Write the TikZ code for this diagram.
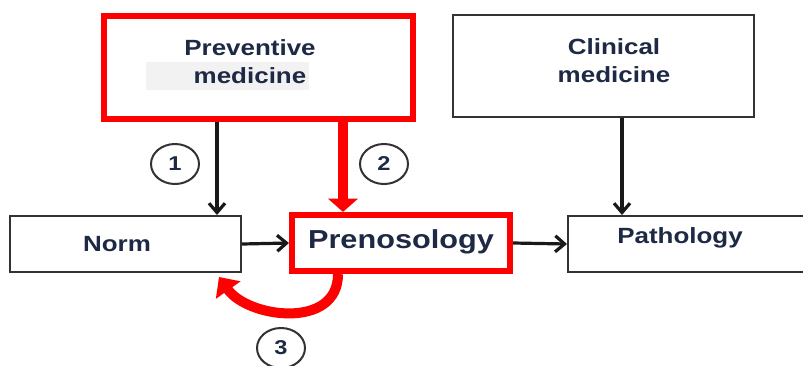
\documentclass[tikz,border=0pt]{standalone}
\usepackage{fontspec}
\setmainfont[FakeStretch=1.18]{Liberation Sans}
\usetikzlibrary{arrows.meta,shapes.geometric}
\definecolor{ink}{HTML}{1E2A45}
\definecolor{boxline}{HTML}{333333}
\definecolor{hl}{HTML}{FF0000}
\tikzset{
  plainbox/.style={draw=boxline,line width=1.5pt,rectangle,inner sep=0pt},
  redbox/.style={draw=hl,line width=4.6pt,rectangle,inner sep=0pt},
  txt/.style={text=ink,font=\bfseries\fontsize{16.5}{21}\selectfont,align=center,inner sep=0pt},
  bigtxt/.style={text=ink,font=\bfseries\fontsize{19.5}{24}\selectfont,inner sep=0pt},
  numtag/.style={draw=boxline,line width=1.5pt,ellipse,minimum width=36pt,minimum height=30pt,inner sep=0pt,
                 text=ink,font=\bfseries\fontsize{15}{18}\selectfont},
  thinarrow/.style={draw=black!90,line width=2.4pt,-{Straight Barb[length=7pt,width=12pt,line width=2.4pt]}},
  fatarrow/.style={draw=hl,line width=7.5pt,-{Triangle[length=10pt,width=22pt]}},
}
\begin{document}
\begin{tikzpicture}[x=0.75pt,y=-0.75pt]
  \useasboundingbox (0,0) rectangle (803,365);
  \clip (0,0) rectangle (803,365);
  \fill[white] (0,0) rectangle (803,365);

  % top boxes
  \node[redbox,minimum width=309*0.75pt,minimum height=103*0.75pt] (prev) at (258.5,67.5) {};
  \fill[black!5] (146,62) rectangle (309,90);
  \node[txt] (prevtxt) at (250,62) {Preventive\\medicine};
  \node[plainbox,minimum width=301*0.75pt,minimum height=102*0.75pt] (clin) at (603.5,66) {};
  \node[txt] (clintxt) at (614,61) {Clinical\\medicine};

  % bottom row
  \node[plainbox,minimum width=231*0.75pt,minimum height=56*0.75pt] (norm) at (125.5,244) {};
  \node[txt] (normtxt) at (117,244) {Norm};
  \node[redbox,minimum width=218*0.75pt,minimum height=56*0.75pt] (pre) at (401,243) {};
  \node[bigtxt] (pretxt) at (401,242) {Prenosology};
  \node[plainbox,minimum width=240*0.75pt,minimum height=56*0.75pt] (path) at (688,244) {};
  \node[txt] (pathtxt) at (680,238) {Pathology};

  % vertical guides for the downward connectors
  \coordinate (c1) at (217,0);
  \coordinate (c2) at (343,0);
  \coordinate (c3) at (622,0);

  % connectors
  \draw[thinarrow] (prev.south -| c1) -- (norm.north -| c1);
  \draw[fatarrow] (prev.south -| c2) -- (pre.north -| c2);
  \draw[thinarrow] (norm.east) -- (pre.west);
  \draw[thinarrow] (pre.east) -- (path.west);
  \draw[thinarrow] (clin.south -| c3) -- (path.north -| c3);
  \coordinate (back) at (219,277);
  \draw[draw=hl,line width=7.5pt,-{Triangle[length=12pt,width=22pt]}]
    (pre.south -| 338,0) .. controls (338,330) and (248,318) .. (back);

  % numbered tags
  \node[numtag] (t1) at (175,164) {1};
  \node[numtag] (t2) at (384,164) {2};
  \node[numtag] (t3) at (281,348) {3};
\end{tikzpicture}
\end{document}
